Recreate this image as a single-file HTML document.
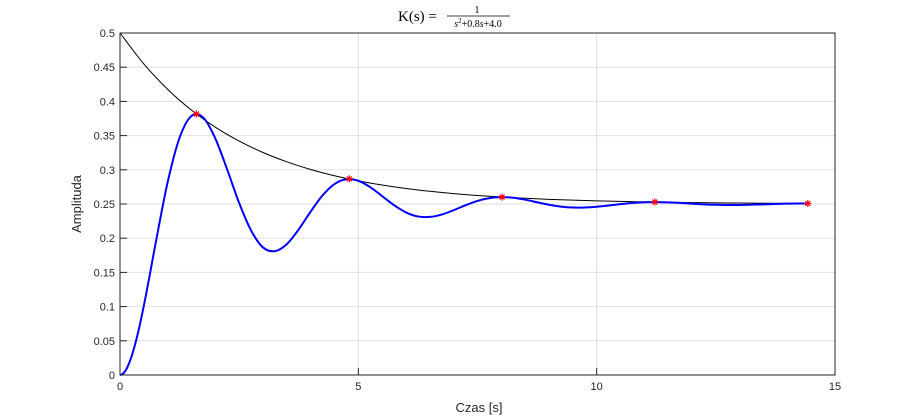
<!DOCTYPE html>
<html><head><meta charset="utf-8"><style>
body{margin:0;background:#fff;}
svg{display:block;font-family:"Liberation Sans",sans-serif;}
</style></head><body>
<svg id="chart" width="922" height="420">
<rect x="0" y="0" width="922" height="420" fill="#fff"/>
<rect x="120" y="33" width="715" height="342" fill="#fff"/>
<g id="grid"></g>
<g id="series"></g>
<rect x="120" y="33" width="715" height="342" fill="none" stroke="#262626" stroke-width="1"/>
<g id="ticks" font-size="11" fill="#262626"></g>
<text x="479" y="412" text-anchor="middle" font-size="13" fill="#262626">Czas [s]</text>
<text transform="translate(81,204) rotate(-90)" text-anchor="middle" font-size="13" fill="#262626">Amplituda</text>
<g font-family="'Liberation Serif',serif" fill="#000">
<text x="398" y="21" font-size="15">K(s) =</text>
<text x="477" y="13" font-size="10" text-anchor="middle">1</text>
<line x1="447" y1="16" x2="510" y2="16" stroke="#000" stroke-width="0.8"/>
<text x="478" y="27" font-size="10" text-anchor="middle"><tspan font-style="italic">s</tspan><tspan font-size="7" dy="-4">2</tspan><tspan dy="4">+0.8</tspan><tspan font-style="italic">s</tspan>+4.0</text>
</g>
</svg>
<script>
const xTicks=[0,5,10,15];
const yTicks=[0,0.05,0.1,0.15,0.2,0.25,0.3,0.35,0.4,0.45,0.5];
const respTime=[0,0.05,0.1,0.15,0.25,0.375,0.5,0.625,0.75,1,1.25,1.5,1.75,2,2.25,2.5,2.75,3,3.25,3.5,3.75,4,4.25,4.5,4.75,5,5.25,5.5,5.75,6,6.25,6.5,6.75,7,7.25,7.5,7.75,8,8.25,8.5,8.75,9,9.25,9.5,9.75,10,10.25,10.5,10.75,11,11.25,11.5,11.75,12,12.25,12.5,12.75,13,13.25,13.5,13.75,14,14.25,14.43];
const respValues=[0,0.0012,0.0049,0.0107,0.0287,0.0609,0.1013,0.1465,0.1937,0.2820,0.3470,0.3788,0.3762,0.3457,0.3002,0.2514,0.2113,0.1865,0.1811,0.1914,0.2130,0.2389,0.2626,0.2792,0.2862,0.2840,0.2746,0.2615,0.2482,0.2377,0.2318,0.2311,0.2346,0.2410,0.2482,0.2545,0.2586,0.2601,0.2591,0.2563,0.2525,0.2489,0.2462,0.2448,0.2449,0.2460,0.2478,0.2498,0.2515,0.2525,0.2528,0.2524,0.2516,0.2505,0.2495,0.2489,0.2485,0.2486,0.2490,0.2495,0.2500,0.2505,0.2507,0.2508];
const envTime=[0,0.5,1,1.5,2,2.5,3,3.5,4,4.5,5,5.5,6,6.5,7,7.5,8,8.5,9,9.5,10,10.5,11,11.5,12,12.5,13,13.5,14,14.43];
const envValues=[0.5,0.4547,0.4176,0.3872,0.3623,0.3420,0.3253,0.3117,0.3005,0.2913,0.2838,0.2777,0.2727,0.2686,0.2652,0.2625,0.2602,0.2584,0.2568,0.2556,0.2546,0.2538,0.2531,0.2525,0.2521,0.2517,0.2514,0.2511,0.2509,0.2508];
const peakTime=[1.603,4.810,8.016,11.22,14.43];
const peakValues=[0.3816,0.2868,0.2601,0.2529,0.2508];
const X0=120,X1=835,Y0=375,Y1=33;
function sx(t){return X0+(t-0)/(15-0)*(X1-X0);}
function sy(v){return Y0-(v-0)/(0.5-0)*(Y0-Y1);}
const NS='http://www.w3.org/2000/svg';
const grid=document.getElementById('grid'),ticks=document.getElementById('ticks'),series=document.getElementById('series');
function mk(tag,attrs,parent){const e=document.createElementNS(NS,tag);for(const k in attrs)e.setAttribute(k,attrs[k]);parent.appendChild(e);return e;}
xTicks.forEach(t=>{
  const g=mk('line',{x1:sx(t),x2:sx(t),y1:Y1,y2:Y0,stroke:'#dfdfdf','stroke-width':1},grid);
  
  
  const tk=mk('line',{x1:sx(t),x2:sx(t),y1:Y0,y2:Y0-7,stroke:'#262626'},ticks);
  
  
  const l=mk('text',{x:sx(t),y:Y0+15,'text-anchor':'middle'},ticks);
  l.textContent=t;
  
  
});
yTicks.forEach(v=>{
  const g=mk('line',{x1:X0,x2:X1,y1:sy(v),y2:sy(v),stroke:'#dfdfdf','stroke-width':1},grid);
  
  
  const tk=mk('line',{x1:X0,x2:X0+7,y1:sy(v),y2:sy(v),stroke:'#262626'},ticks);
  
  
  const l=mk('text',{x:X0-5,y:sy(v)+4,'text-anchor':'end'},ticks);
  l.textContent=String(v);
  
  
});
function smooth(ts,vs){
  const p=ts.map((t,i)=>[sx(t),sy(vs[i])]);
  let d='M'+p[0][0]+','+p[0][1];
  for(let i=0;i<p.length-1;i++){
    const a=p[Math.max(i-1,0)],b=p[i],c=p[i+1],e=p[Math.min(i+2,p.length-1)];
    const c1=[b[0]+(c[0]-a[0])/6,b[1]+(c[1]-a[1])/6],c2=[c[0]-(e[0]-b[0])/6,c[1]-(e[1]-b[1])/6];
    d+=' C'+c1[0]+','+c1[1]+' '+c2[0]+','+c2[1]+' '+c[0]+','+c[1];
  }
  return d;
}
const env=mk('path',{d:smooth(envTime,envValues),fill:'none',stroke:'#000','stroke-width':1},series);


const resp=mk('path',{d:smooth(respTime,respValues),fill:'none',stroke:'#0000ff','stroke-width':2},series);


peakTime.forEach((t,i)=>{
  const x=sx(t),y=sy(peakValues[i]),r=3.5;
  const g=mk('g',{stroke:'#ff0000','stroke-width':1.2},series);
  
  
  mk('line',{x1:x-r,x2:x+r,y1:y,y2:y},g);
  mk('line',{x1:x,x2:x,y1:y-r,y2:y+r},g);
  mk('line',{x1:x-r*0.7,x2:x+r*0.7,y1:y-r*0.7,y2:y+r*0.7},g);
  mk('line',{x1:x-r*0.7,x2:x+r*0.7,y1:y+r*0.7,y2:y-r*0.7},g);
});
</script>
</body></html>
